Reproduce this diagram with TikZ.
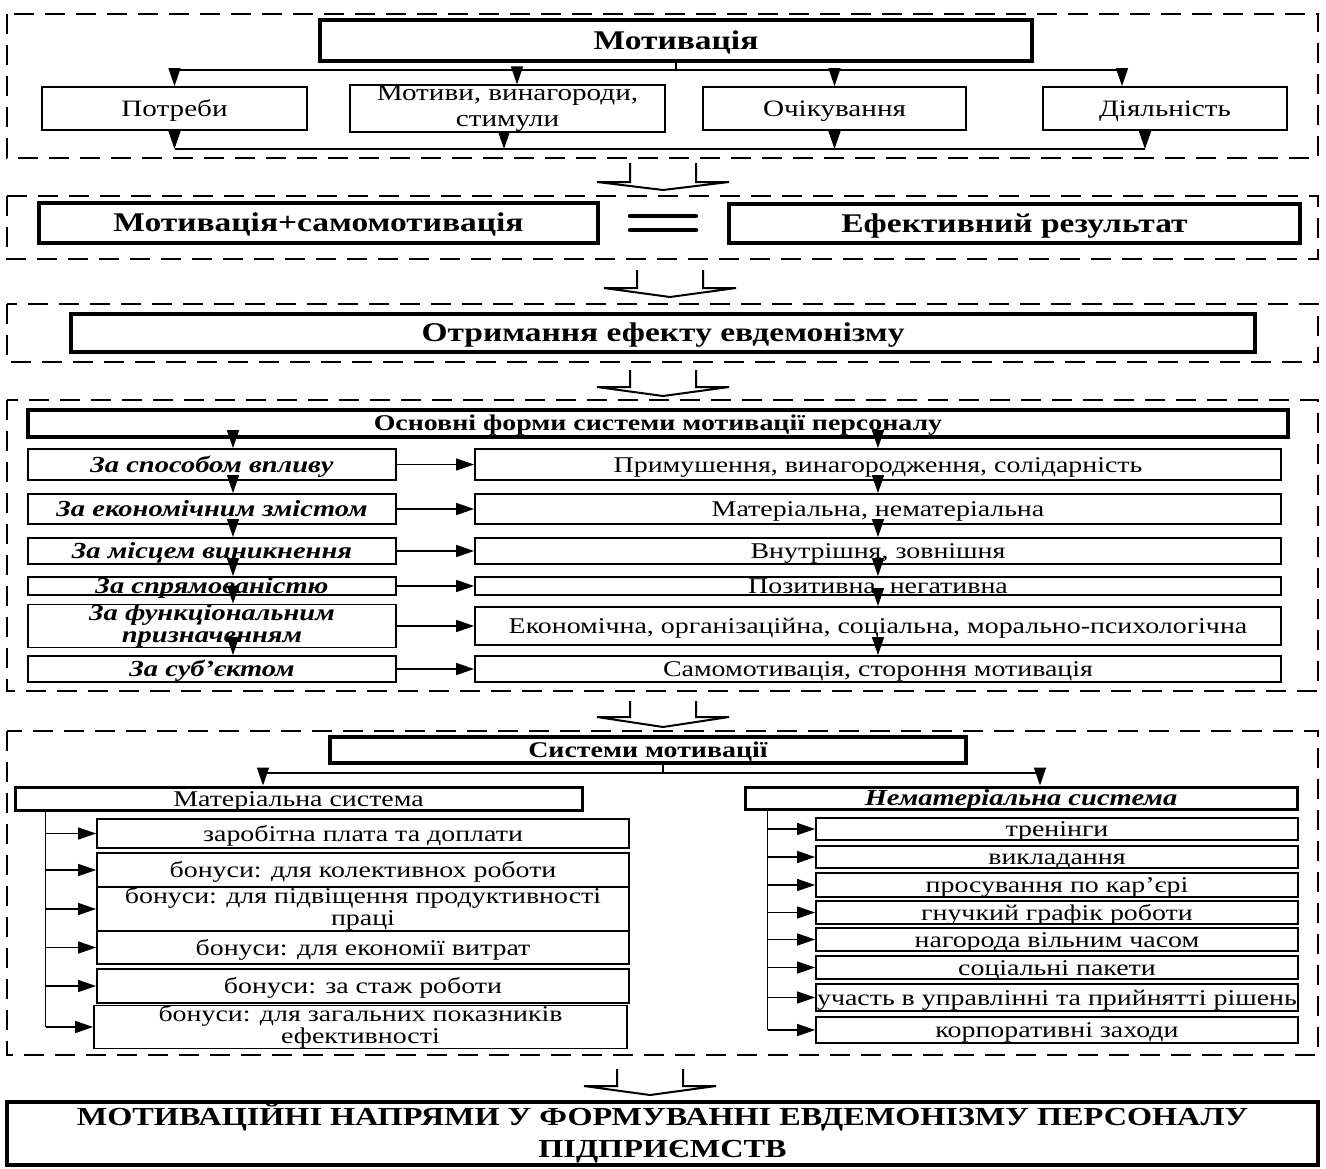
\documentclass[tikz,border=0pt]{standalone}
\usepackage{fontspec}
\setmainfont{Liberation Serif}[FakeStretch=1.24]
\usetikzlibrary{arrows.meta}

\begin{document}
\begin{tikzpicture}
[x=1pt, y=-1pt, >={Triangle[length=18pt,width=12pt]},
 line/.style={line width=1.5pt},
 wh/.style 2 args={minimum width=#1pt, minimum height=#2pt},
 box/.style={draw, line width=1.8pt, inner sep=0pt, align=center, text height=15pt, text depth=0pt,
   font={\fontsize{22.5}{22}\selectfont}},
 multiline/.style={text height=, text depth=},
 toprow/.style={box, font={\fontsize{23.5}{26}\selectfont}},
 headbox/.style={box, line width=4.5pt, text height=17pt, font={\bfseries\fontsize{27}{30}\selectfont}},
 smallhead/.style={headbox, text height=14.5pt, font={\bfseries\fontsize{22.5}{22}\selectfont}},
 critbox/.style={box, font={\bfseries\itshape\fontsize{23}{22}\selectfont}},
 frame/.style={line width=1.5pt, dash pattern=on 20pt off 11pt},
 blockarrow/.style={line width=2pt}]

\useasboundingbox (0,0) rectangle (1326,1168);

% Motivation and its elements:
\draw[frame] (7,14) rectangle (1318,158);
\node[headbox, wh={712}{41}] (motivation) at (676,40.5) {Мотивація};
\node[toprow, wh={265}{43}] (needs)    at (174.5,108.5) {Потреби};
\node[toprow, multiline, wh={315}{43}] (motives) at (507.5,108.5) {Мотиви, винагороди,\\стимули};
\node[toprow, wh={263}{43}] (expect)   at (834.5,108.5) {Очікування};
\node[toprow, wh={244}{43}] (activity) at (1165,108.5) {Діяльність};

\coordinate (top bus) at (676,70);
\coordinate (low bus) at (676,149);
\draw[line] (motivation.south) -- (top bus);
\draw[line] (needs.north |- top bus) -- ([xshift=-43]activity.north |- top bus);
\draw[line,->] (needs.north |- top bus) -- (needs.north);
\draw[line,->] ([xshift=9.5]motives.north |- top bus) -- ([xshift=9.5]motives.north);
\draw[line,->] (expect.north |- top bus) -- (expect.north);
\draw[line,->] ([xshift=-43]activity.north |- top bus) -- ([xshift=-43]activity.north);

\draw[line] (needs.south |- low bus) -- ([xshift=-20]activity.south |- low bus);
\draw[line,->] (needs.south) -- (needs.south |- low bus);
\draw[line,->] ([xshift=-3.5]motives.south) -- ([xshift=-3.5]motives.south |- low bus);
\draw[line,->] (expect.south) -- (expect.south |- low bus);
\draw[line,->] ([xshift=-20]activity.south) -- ([xshift=-20]activity.south |- low bus);

\draw[blockarrow, shift={(663,163)}] (-33,0) -- (-33,19) -- (-66,19) -- (0,27) -- (66,19) -- (33,19) -- (33,0);

% Motivation + self-motivation = result:
\draw[frame] (7,196) rectangle (1318,259);
\node[headbox, wh={559}{40}] (sum)    at (318.5,223)  {Мотивація+самомотивація};
\node[headbox, wh={571}{39}] (result) at (1014.5,223.5) {Ефективний результат};
\draw[line width=4.5pt, line cap=round] (630,216) -- (696,216) (630,230) -- (696,230);

\draw[blockarrow, shift={(670,270)}] (-33,0) -- (-33,18) -- (-66,18) -- (0,27) -- (66,18) -- (33,18) -- (33,0);

% Eudaimonia effect:
\draw[frame] (7,304) rectangle (1318,362);
\node[headbox, wh={1184}{38}] (eudaimonia) at (663,333) {Отримання ефекту евдемонізму};

\draw[blockarrow, shift={(663,370)}] (-33,0) -- (-33,17) -- (-66,17) -- (0,26) -- (66,17) -- (33,17) -- (33,0);

% Basic forms:
\draw[frame] (7,400) rectangle (1318,691);
\node[smallhead, wh={1260}{27}] (forms) at (658,423.5) {Основні форми системи мотивації персоналу};

\node[critbox, wh={368}{31}] (crit1) at (212,464.5) {За способом впливу};
\node[critbox, wh={368}{30}] (crit2) at (212,509)   {За економічним змістом};
\node[critbox, wh={368}{26}] (crit3) at (212,551)   {За місцем виникнення};
\node[critbox, wh={368}{18}] (crit4) at (212,586)   {За спрямованістю};
\node[critbox, multiline, wh={368}{38}] (crit5) at (212,626) {За функціональним\\призначенням};
\node[critbox, wh={368}{26}] (crit6) at (212,669)   {За суб’єктом};

\node[box, wh={806}{31}] (kind1) at (878,464.5) {Примушення, винагородження, солідарність};
\node[box, wh={806}{30}] (kind2) at (878,509)   {Матеріальна, нематеріальна};
\node[box, wh={806}{26}] (kind3) at (878,551)   {Внутрішня, зовнішня};
\node[box, wh={806}{18}] (kind4) at (878,586)   {Позитивна, негативна};
\node[box, wh={806}{38}] (kind5) at (878,626)   {Економічна, організаційна, соціальна, морально-психологічна};
\node[box, wh={806}{26}] (kind6) at (878,669)   {Самомотивація, стороння мотивація};

\draw[line,->] (crit1) -- (kind1);
\draw[line,->] (crit2) -- (kind2);
\draw[line,->] (crit3) -- (kind3);
\draw[line,->] (crit4) -- (kind4);
\draw[line,->] (crit5) -- (kind5);
\draw[line,->] (crit6) -- (kind6);

\coordinate (left chain) at (233,0);
\draw[line,->] (left chain |- forms.south) -- (left chain |- crit1.north);
\draw[line,->] (left chain |- crit1.south) -- (left chain |- crit2.north);
\draw[line,->] (left chain |- crit2.south) -- (left chain |- crit3.north);
\draw[line,->] (left chain |- crit3.south) -- (left chain |- crit4.north);
\draw[line,->] (left chain |- crit4.south) -- (left chain |- crit5.north);
\draw[line,->] (left chain |- crit5.south) -- (left chain |- crit6.north);

\draw[line,->] (kind1.north |- forms.south) -- (kind1.north);
\draw[line,->] (kind1.south) -- (kind2.north);
\draw[line,->] (kind2.south) -- (kind3.north);
\draw[line,->] (kind3.south) -- (kind4.north);
\draw[line,->] (kind4.south) -- (kind5.north);
\draw[line,->] (kind5.south) -- (kind6.north);

\draw[blockarrow, shift={(663,701)}] (-33,0) -- (-33,16) -- (-66,16) -- (0,26) -- (66,16) -- (33,16) -- (33,0);

% Motivation systems:
\draw[frame] (7,731) rectangle (1318,1055);
\node[smallhead, wh={636}{26}] (systems) at (648,750) {Системи мотивації};
\node[box, line width=3pt, wh={567}{23}] (material) at (298.5,798.5) {Матеріальна система};
\node[critbox, line width=3pt, wh={552}{22}] (nonmaterial) at (1021,798) {Нематеріальна система};

\coordinate (sys bus) at (663,773);
\draw[line] (sys bus |- systems.south) -- (sys bus);
\draw[line] ([xshift=-35.5]material.north |- sys bus) -- ([xshift=19]nonmaterial.north |- sys bus);
\draw[line,->] ([xshift=-35.5]material.north |- sys bus) -- ([xshift=-35.5]material.north);
\draw[line,->] ([xshift=19]nonmaterial.north |- sys bus) -- ([xshift=19]nonmaterial.north);

% Material items:
\node[box, wh={532}{29}] (pay)     at (363,833.5)  {заробітна плата та доплати};
\node[box, wh={532}{34}] (team)    at (363,870)    {бонуси: для колективнох роботи};
\node[box, multiline, wh={532}{34}] (product) at (363,909) {бонуси: для підвіщення продуктивності\\праці};
\node[box, wh={532}{33}] (saving)  at (363,947.5)  {бонуси: для економії витрат};
\node[box, wh={532}{34}] (tenure)  at (363,986)    {бонуси: за стаж роботи};
\node[box, multiline, wh={533}{34}] (overall) at (360.5,1027) {бонуси: для загальних показників\\ефективності};

\coordinate (mat spine) at ([xshift=32]material.south west);
\draw[line] (mat spine) -- (mat spine |- overall.west);
\draw[line,->] (mat spine |- pay.west)     -- (pay.west);
\draw[line,->] (mat spine |- team.west)    -- (team.west);
\draw[line,->] (mat spine |- product.west) -- (product.west);
\draw[line,->] (mat spine |- saving.west)  -- (saving.west);
\draw[line,->] (mat spine |- tenure.west)  -- (tenure.west);
\draw[line,->] (mat spine |- overall.west) -- (overall.west);

% Non-material items:
\node[box, wh={482}{22}] (training)   at (1057,829)    {тренінги};
\node[box, wh={482}{22}] (teaching)   at (1057,857)    {викладання};
\node[box, wh={482}{24}] (career)     at (1057,885)    {просування по кар’єрі};
\node[box, wh={482}{23}] (flexible)   at (1057,912.5)  {гнучкий графік роботи};
\node[box, wh={482}{23}] (freetime)   at (1057,939.5)  {нагорода вільним часом};
\node[box, wh={482}{23}] (social)     at (1057,967.5)  {соціальні пакети};
\node[box, wh={482}{27}] (decisions)  at (1057,997.5)  {участь в управлінні та прийнятті рішень};
\node[box, wh={482}{26}] (corporate)  at (1057,1030)   {корпоративні заходи};

\coordinate (nonmat spine) at ([xshift=24]nonmaterial.south west);
\draw[line] (nonmat spine) -- (nonmat spine |- corporate.west);
\draw[line,->] (nonmat spine |- training.west)  -- (training.west);
\draw[line,->] (nonmat spine |- teaching.west)  -- (teaching.west);
\draw[line,->] (nonmat spine |- career.west)    -- (career.west);
\draw[line,->] (nonmat spine |- flexible.west)  -- (flexible.west);
\draw[line,->] (nonmat spine |- freetime.west)  -- (freetime.west);
\draw[line,->] (nonmat spine |- social.west)    -- (social.west);
\draw[line,->] (nonmat spine |- decisions.west) -- (decisions.west);
\draw[line,->] (nonmat spine |- corporate.west) -- (corporate.west);

\draw[blockarrow, shift={(650,1069)}] (-33,0) -- (-33,17) -- (-66,17) -- (0,26) -- (66,17) -- (33,17) -- (33,0);

% Result:
\node[headbox, multiline, wh={1311}{63}, font={\bfseries\fontsize{26}{32}\selectfont}] (directions) at (662.5,1133.5) {МОТИВАЦІЙНІ НАПРЯМИ У ФОРМУВАННІ ЕВДЕМОНІЗМУ ПЕРСОНАЛУ\\ПІДПРИЄМСТВ};

\end{tikzpicture}
\end{document}
